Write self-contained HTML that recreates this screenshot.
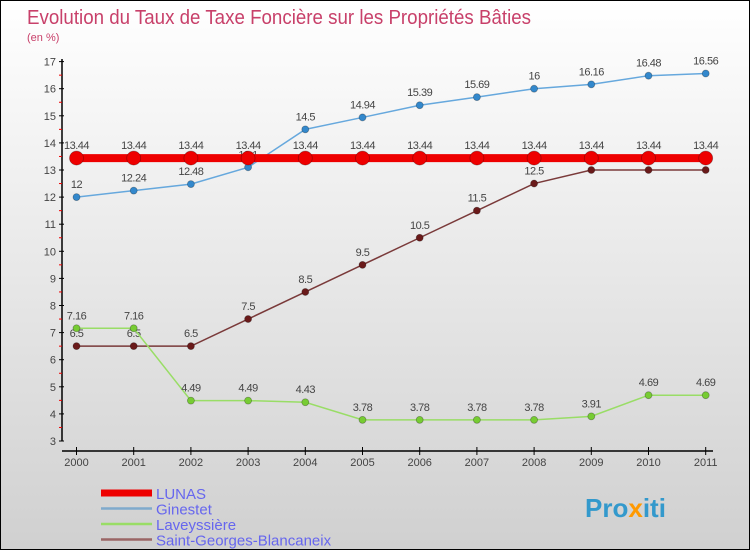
<!DOCTYPE html>
<html><head><meta charset="utf-8"><style>
body{margin:0;}
#c{position:relative;width:750px;height:550px;box-sizing:border-box;border:1px solid #000;background:linear-gradient(#ffffff,#d0d0d0);font-family:"Liberation Sans",sans-serif;overflow:hidden;}
svg{position:absolute;left:0;top:0;}
</style></head><body>
<div id="c">
<svg id="s" width="750" height="550">
<text x="26" y="23" font-size="20" fill="#c8406a" textLength="504" lengthAdjust="spacingAndGlyphs">Evolution du Taux de Taxe Foncière sur les Propriétés Bâties</text>
<text x="26" y="40" font-size="11" fill="#c8406a">(en %)</text>
</svg>
</div>
<script>
const years=[2000,2001,2002,2003,2004,2005,2006,2007,2008,2009,2010,2011];
const lunas=[13.44,13.44,13.44,13.44,13.44,13.44,13.44,13.44,13.44,13.44,13.44,13.44];
const ginestet=[12,12.24,12.48,13.1,14.5,14.94,15.39,15.69,16,16.16,16.48,16.56];
const laveyssiere=[7.16,7.16,4.49,4.49,4.43,3.78,3.78,3.78,3.78,3.91,4.69,4.69];
const stgeorges=[6.5,6.5,6.5,7.5,8.5,9.5,10.5,11.5,12.5,13,13,13];
const yTicks=[3,4,5,6,7,8,9,10,11,12,13,14,15,16,17];
const legendNames=["LUNAS","Ginestet","Laveyssière","Saint-Georges-Blancaneix"];
const NS="http://www.w3.org/2000/svg";
const svg=document.getElementById('s');
const X=i=>75.5+i*57.2;
const Y=v=>440-(v-3)*27.1;
function el(t,a,p){const e=document.createElementNS(NS,t);for(const k in a)e.setAttribute(k,a[k]);(p||svg).appendChild(e);return e;}
let ya=el('line',{x1:61,y1:58,x2:61,y2:440,stroke:'#000','stroke-width':1.5});


let xa=el('line',{x1:61,y1:450,x2:712,y2:450,stroke:'#000','stroke-width':1.5});


yTicks.forEach(v=>{
 el('line',{x1:58,x2:63,y1:Y(v),y2:Y(v),stroke:'#000'});
 if(v<17)el('line',{x1:58,x2:61,y1:Y(v+0.5),y2:Y(v+0.5),stroke:'#e00'});
 const t=el('text',{x:55,y:Y(v)+4,'font-size':11,fill:'#444','text-anchor':'end'});t.textContent=v;
 
 
});
years.forEach((y,i)=>{
 el('line',{x1:X(i),x2:X(i),y1:446,y2:454,stroke:'#000'});
 const t=el('text',{x:X(i),y:465,'font-size':11,fill:'#444','text-anchor':'middle'});t.textContent=y;
 
 
});
function series(data,color,dot,lw,r,name){
 const g=el('g',{});
 
 
 el('polyline',{points:data.map((v,i)=>X(i)+','+Y(v)).join(' '),fill:'none',stroke:color,'stroke-width':lw},g);
 data.forEach((v,i)=>{
  const c=el('circle',{cx:X(i),cy:Y(v),r:r,fill:dot,stroke:'rgba(0,0,0,0.3)','stroke-width':0.8},g);
  
  
  const t=el('text',{x:X(i),y:Y(v)-9,'font-size':11,fill:'#444','text-anchor':'middle','letter-spacing':'-0.5'},g);
  t.textContent=v;
 });
}
series(stgeorges,'#7a3a3a','#6a1a1a',1.5,3.5,'series-saint-georges');
series(laveyssiere,'#99dd66','#77cc33',1.5,3.5,'series-laveyssiere');
series(ginestet,'#66a8dd','#3388cc',1.5,3.5,'series-ginestet');
series(lunas,'#ee0000','#ee0000',8,7,'series-lunas');
const lc=['#ee0000','#7faacc','#99dd66','#9a6666'];
legendNames.forEach((n,i)=>{
 const y=492+i*15.5;
 const l=el('line',{x1:100,x2:151,y1:y,y2:y,stroke:lc[i],'stroke-width':i==0?7:2.5});
 
 
 const t=el('text',{x:155,y:y+6,'font-size':15,fill:'#6666ee'});t.textContent=n;
 
 
});
const p=el('text',{x:584,y:516,'font-size':26,'font-weight':'bold',fill:'#3399cc'});
p.innerHTML='Pro<tspan fill="#ff9900">x</tspan>iti';


</script>
</body></html>
